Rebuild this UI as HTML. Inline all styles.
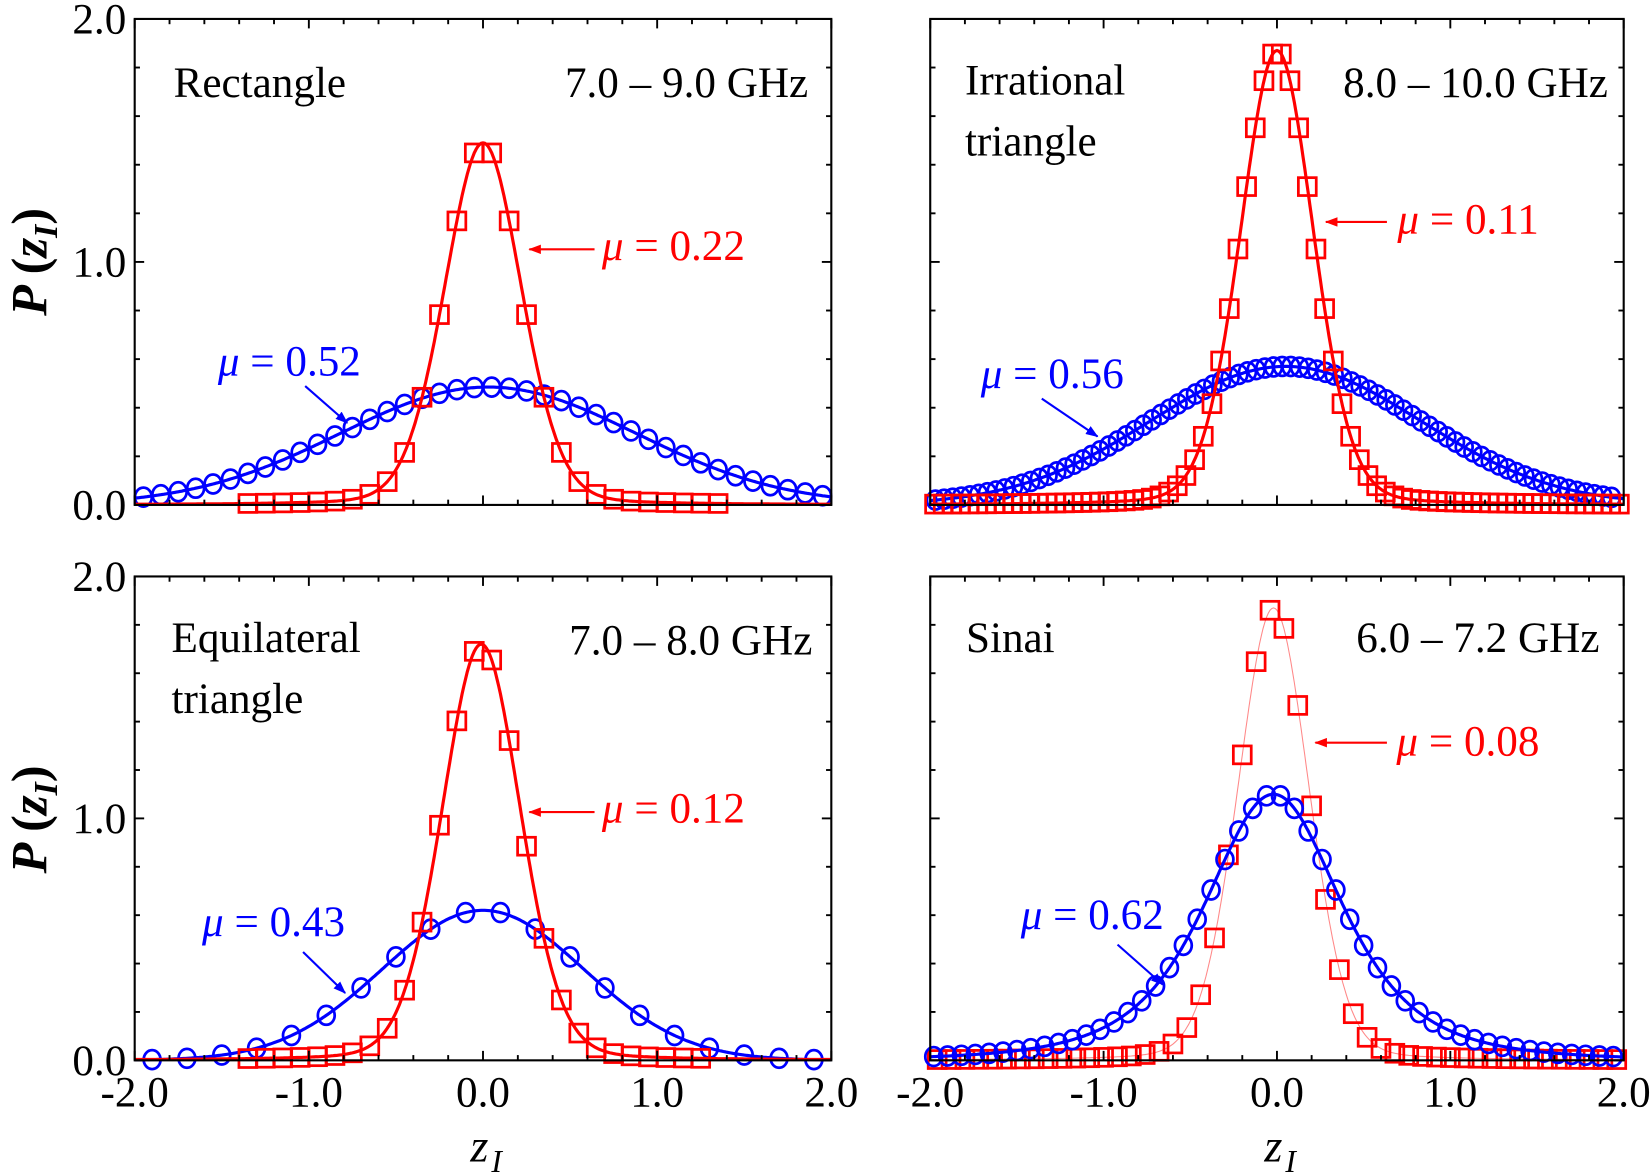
<!DOCTYPE html>
<html><head><meta charset="utf-8"><style>
html,body{margin:0;padding:0;background:#fff;}
svg{display:block;}
</style></head><body>
<svg id="s" width="1650" height="1175" viewBox="0 0 1568 1117" preserveAspectRatio="none" xmlns="http://www.w3.org/2000/svg" font-family="'Liberation Serif','Times New Roman',Times,serif">
<defs>
<marker id="arR" markerWidth="12" markerHeight="9" refX="11" refY="4.5" orient="auto" markerUnits="userSpaceOnUse"><path d="M0,0 L12,4.5 L0,9 Z" fill="#f00"/></marker>
<marker id="arB" markerWidth="12" markerHeight="9" refX="11" refY="4.5" orient="auto" markerUnits="userSpaceOnUse"><path d="M0,0 L12,4.5 L0,9 Z" fill="#00f"/></marker>
</defs>
<g id="g"></g>
</svg>
<script>
var NS="http://www.w3.org/2000/svg",G=document.getElementById("g");
var FF="'Liberation Serif','Times New Roman',Times,serif";
function el(t,a,txt){var e=document.createElementNS(NS,t);for(var k in a)e.setAttribute(k,a[k]);if(t=="text")e.setAttribute("font-family",FF);if(txt!=null)e.textContent=txt;G.appendChild(e);return e;}
function gauss(A,s,c){return function(z){return A*Math.exp(-(z-c)*(z-c)/(2*s*s));};}
function mix(A,s,c){return function(z){var d=(z-c)/s;return A*(0.85*Math.exp(-d*d/2)+0.15/(1+d*d));};}
function lor2(A,w,c){return function(z){var d=(z-c)/w;return A/Math.pow(1+d*d,2);};}
function panel(L,R,T,B,o){
  var X=function(z){return L+(z+2)/4*(R-L);},Y=function(p){return B-p/2*(B-T);};
  o.series.forEach(function(s){
    var d="";for(var z=-2;z<=2.0001;z+=0.01){d+=(d?"L":"M")+X(z).toFixed(1)+","+Math.max(T,Y(s.f(z))).toFixed(1);}
    el("path",{d:d,fill:"none",stroke:s.lc||s.c,"stroke-width":s.lw});
    var lim=s.lim||1.98;
    for(var k=0;;k++){var z=s.z0+k*s.dz;if(z>lim)break;if(z<-lim)continue;
      var p=s.f(z),x=X(z),y=Y(p);
      if(s.m=="sq")el("rect",{x:x-8.5,y:y-8.5,width:17,height:17,fill:"none",stroke:s.c,"stroke-width":2.6});
      else el("ellipse",{cx:x,cy:y,rx:8,ry:9,fill:"none",stroke:s.c,"stroke-width":2.6});}
  });
  el("rect",{x:L,y:T,width:R-L,height:B-T,fill:"none",stroke:"#000","stroke-width":2});
  for(var i=0;i<=20;i++){var x=L+i*(R-L)/20,l=(i%5==0)?9:5;
    el("line",{x1:x,y1:B,x2:x,y2:B-l,stroke:"#000","stroke-width":1.8});
    el("line",{x1:x,y1:T,x2:x,y2:T+l,stroke:"#000","stroke-width":1.8});}
  for(var j=0;j<=10;j++){var y=B-j*(B-T)/10,l=(j%5==0)?9:5;
    el("line",{x1:L,y1:y,x2:L+l,y2:y,stroke:"#000","stroke-width":1.8});
    el("line",{x1:R,y1:y,x2:R-l,y2:y,stroke:"#000","stroke-width":1.8});}
  if(o.ylab){["0.0","1.0","2.0"].forEach(function(t,i){el("text",{x:L-8,y:Y(i)+14,"font-size":41,"text-anchor":"end"},t);});}
  if(o.xlab){["-2.0","-1.0","0.0","1.0","2.0"].forEach(function(t,i){el("text",{x:X(i-2),y:B+44,"font-size":41,"text-anchor":"middle"},t);});
    el("text",{x:X(0)-12,y:B+96,"font-size":44,"font-style":"italic"},"z");
    el("text",{x:X(0)+8,y:B+106,"font-size":30,"font-style":"italic"},"I");}
}
function txt(x,y,t,c,anchor){el("text",{x:x,y:y,"font-size":41,fill:c||"#000","text-anchor":anchor||"start"},t);}
function mu(x,y,v,c){var e=el("text",{x:x,y:y,"font-size":41,fill:c});
  var a=document.createElementNS(NS,"tspan");a.setAttribute("font-style","italic");a.textContent="\u03bc";e.appendChild(a);
  var b=document.createElementNS(NS,"tspan");b.textContent=" = "+v;e.appendChild(b);}
function arrow(x1,y1,x2,y2,c){el("line",{x1:x1,y1:y1,x2:x2,y2:y2,stroke:c,"stroke-width":2,"marker-end":c=="#f00"?"url(#arR)":"url(#arB)"});}
var R="#f00",Bl="#00f";
panel(128,790,18,480,{ylab:1,series:[
 {f:gauss(0.485,0.85,0.03),c:Bl,lw:3,m:"ci",z0:-1.95,dz:0.1},
 {f:mix(1.49,0.225,0.0),c:R,lw:3,m:"sq",z0:-1.95,dz:0.1,lim:1.4}]});
panel(884,1543,18,480,{series:[
 {f:gauss(0.57,0.78,0.05),c:Bl,lw:3,m:"ci",z0:-1.97,dz:0.05},
 {f:mix(1.87,0.215,0.0),c:R,lw:3,m:"sq",z0:-1.975,dz:0.05}]});
panel(128,790,548,1008,{ylab:1,xlab:1,series:[
 {f:gauss(0.62,0.58,0.0),c:Bl,lw:3,m:"ci",z0:-1.9,dz:0.2},
 {f:mix(1.72,0.23,-0.01),c:R,lw:3,m:"sq",z0:-1.95,dz:0.1,lim:1.35}]});
panel(884,1543,548,1008,{xlab:1,series:[
 {f:mix(1.87,0.21,-0.02),c:R,lc:"#f88",lw:1,m:"sq",z0:-1.96,dz:0.08},
 {f:lor2(1.1,0.72,-0.02),c:Bl,lw:3,m:"ci",z0:-1.98,dz:0.08}]});
[249,779].forEach(function(cy){var e=el("text",{x:0,y:0,"font-size":48,"font-weight":"bold","font-style":"italic",transform:"translate(44,"+cy+") rotate(-90)","text-anchor":"middle"});
 e.innerHTML='P <tspan font-style="normal">(</tspan>z<tspan font-size="32" dy="10">I</tspan><tspan font-style="normal" dy="-10">)</tspan>';});
txt(165,92,"Rectangle");txt(768,92,"7.0 \u2013 9.0 GHz","#000","end");
mu(572,247,"0.22",R);arrow(565,237,503,237,R);
mu(207,357,"0.52",Bl);arrow(290,367,330,402,Bl);
txt(917,90,"Irrational");txt(917,148,"triangle");txt(1528,92,"8.0 \u2013 10.0 GHz","#000","end");
mu(1328,222,"0.11",R);arrow(1318,211,1260,211,R);
mu(932,369,"0.56",Bl);arrow(990,379,1043,415,Bl);
txt(163,620,"Equilateral");txt(163,678,"triangle");txt(772,622,"7.0 \u2013 8.0 GHz","#000","end");
mu(572,782,"0.12",R);arrow(565,772,503,772,R);
mu(192,890,"0.43",Bl);arrow(288,905,328,944,Bl);
txt(918,620,"Sinai");txt(1520,620,"6.0 \u2013 7.2 GHz","#000","end");
mu(1327,718,"0.08",R);arrow(1318,706,1250,706,R);
mu(970,883,"0.62",Bl);arrow(1062,898,1105,936,Bl);
</script>
</body></html>
